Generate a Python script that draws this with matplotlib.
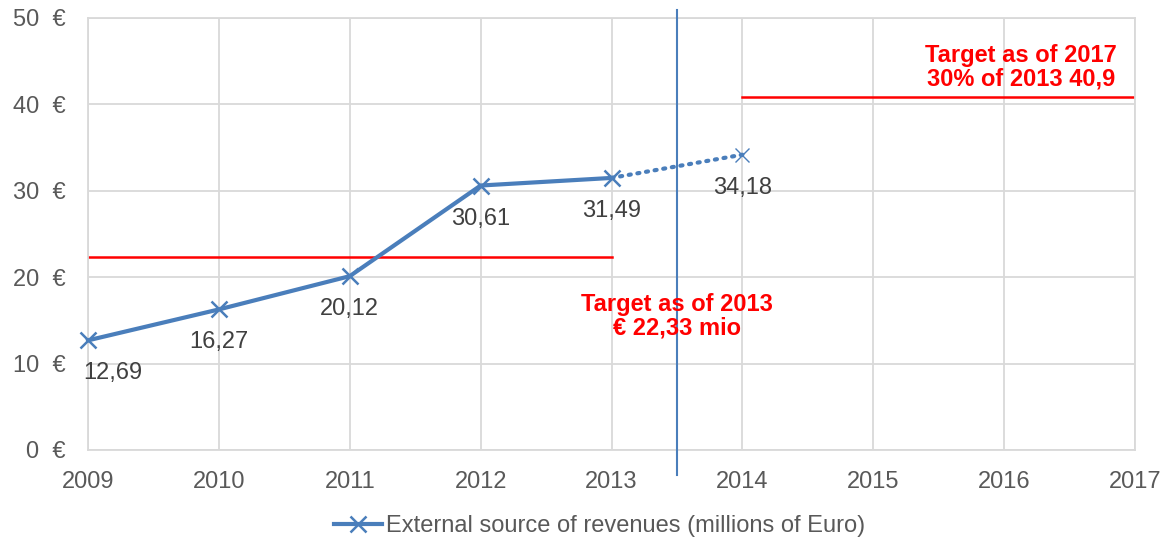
import matplotlib.pyplot as plt
from matplotlib.lines import Line2D

plt.rcParams['font.family'] = ['Liberation Sans', 'DejaVu Sans']

years = [2009, 2010, 2011, 2012, 2013]
revenues = [12.69, 16.27, 20.12, 30.61, 31.49]
forecast_years = [2013, 2014]
forecast_values = [31.49, 34.18]
target_2013 = 22.33
target_2017 = 40.9
y_ticks = [0, 10, 20, 30, 40, 50]
x_ticks = [2009, 2010, 2011, 2012, 2013, 2014, 2015, 2016, 2017]

blue = '#4A7EBB'
red = '#FF0000'
grey_txt = '#595959'
grid_col = '#D9D9D9'

fig = plt.figure(figsize=(11.62, 5.42), dpi=100)
ax = fig.add_axes([88 / 1162, 1 - 450 / 542, (1135 - 88) / 1162, (450 - 18) / 542])

ax.set_xlim(2009, 2017)
ax.set_ylim(0, 50)
ax.set_xticks(x_ticks)
ax.set_yticks(y_ticks)
ax.set_yticklabels([f'{v}  €' for v in y_ticks])
ax.tick_params(length=0, labelsize=17, labelcolor=grey_txt)
ax.tick_params(axis='x', pad=15)
ax.tick_params(axis='y', pad=16)
ax.grid(True, color=grid_col, linewidth=1.3)
ax.set_axisbelow(True)
for s in ax.spines.values():
    s.set_color(grid_col)
    s.set_linewidth(1.3)

# targets
ax.plot([2009, 2013], [target_2013, target_2013], color=red, lw=1.8, zorder=2)
ax.plot([2014, 2017], [target_2017, target_2017], color=red, lw=1.8, zorder=2)
ax.text(2013.5, 15.5, 'Target as of 2013\n€ 22,33 mio', color=red, fontsize=17,
        fontweight='bold', ha='center', va='center', linespacing=1.0, zorder=4)
ax.text(2016.13, 44.3, 'Target as of 2017\n30% of 2013 40,9', color=red, fontsize=17,
        fontweight='bold', ha='center', va='center', linespacing=1.0, zorder=4)

# separator between actual and forecast
ax.plot([2013.5, 2013.5], [-2.9, 50.9], color=blue, lw=1.5, clip_on=False, zorder=3)

# revenues
ax.plot(years, revenues, color=blue, lw=3, marker='x', ms=11, mew=1.8, zorder=5,
        clip_on=False)
ax.plot(forecast_years, forecast_values, color=blue, lw=3, ls=(0, (0.5, 1.6)),
        dash_capstyle='round', zorder=5)
ax.plot(forecast_years[-1:], forecast_values[-1:], ls='none', marker='x', ms=10,
        mew=1.0, color=blue, zorder=5)

all_years = years + forecast_years[-1:]
all_vals = revenues + forecast_values[-1:]
for x, v in zip(all_years, all_vals):
    dx = 0.19 if x == 2009 else 0
    ax.annotate(f'{v:.2f}'.replace('.', ','), (x + dx, v), xytext=(0, -33),
                textcoords='offset pixels', ha='center', va='center',
                fontsize=17, color='#404040', zorder=6, annotation_clip=False)

handle = Line2D([], [], color=blue, lw=3, marker='x', ms=11, mew=1.8)
fig.legend([handle], ['External source of revenues (millions of Euro)'],
           loc='center', bbox_to_anchor=(600 / 1162, 1 - 526 / 542), frameon=False,
           fontsize=17, labelcolor=grey_txt, handlelength=2.0, handletextpad=0.2)

fig.savefig('out.png', dpi=100)
